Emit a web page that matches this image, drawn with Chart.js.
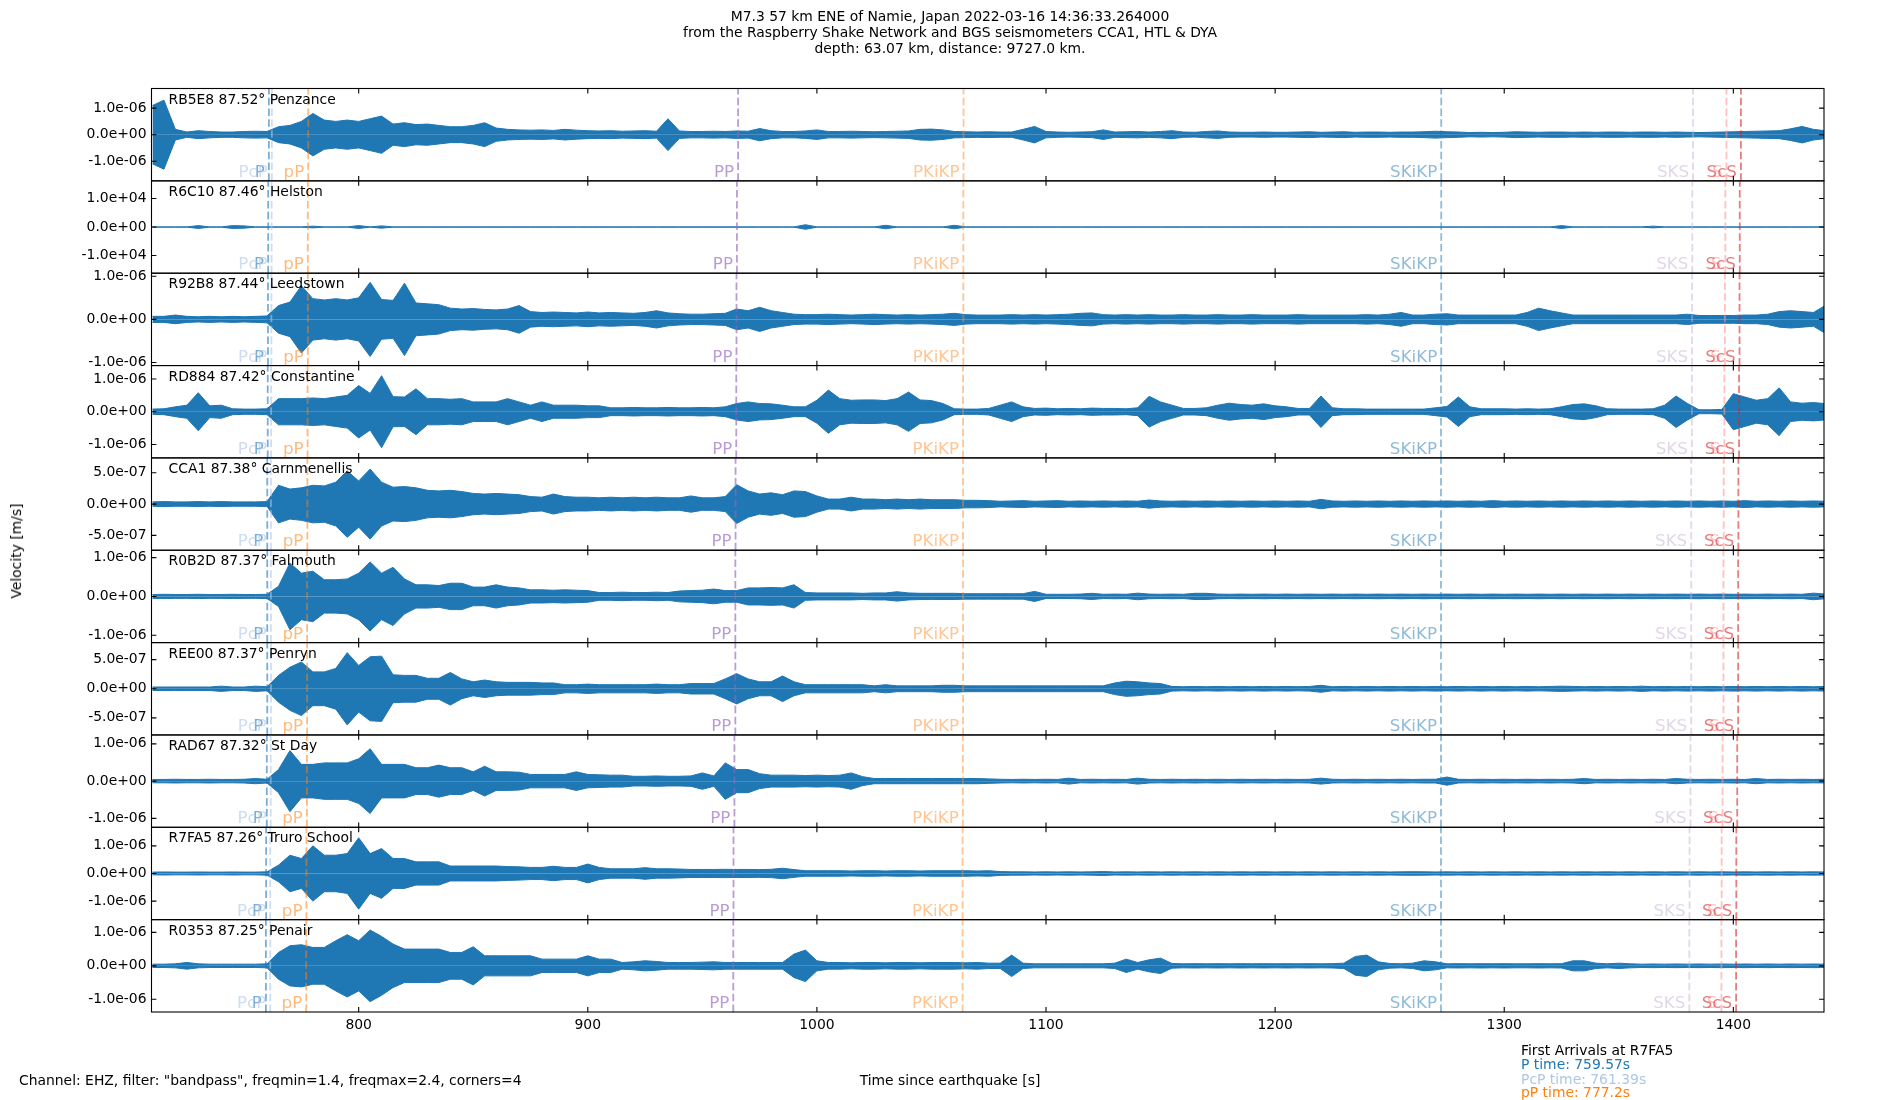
<!DOCTYPE html>
<html>
<head>
<meta charset="utf-8">
<script src="https://cdn.jsdelivr.net/npm/chart.js@4.4.1/dist/chart.umd.min.js"></script>
<style>
body { margin: 0; background: #fff; }
#wrap { position: relative; width: 1900px; height: 1100px; font-family: "DejaVu Sans", sans-serif; font-size: 13.9px; color: #000; }
#seis { position: absolute; left: 0; top: 0; }
.t { position: absolute; white-space: nowrap; line-height: 1; }
</style>
</head>
<body>
<div id="wrap">
<canvas id="seis" width="1900" height="1100"></canvas>
<div class="t" style="left:950px;top:17px;transform:translate(-50%,-50%)">M7.3 57 km ENE of Namie, Japan 2022-03-16 14:36:33.264000</div>
<div class="t" style="left:950px;top:33px;transform:translate(-50%,-50%)">from the Raspberry Shake Network and BGS seismometers CCA1, HTL &amp; DYA</div>
<div class="t" style="left:950px;top:48.5px;transform:translate(-50%,-50%)">depth: 63.07 km, distance: 9727.0 km.</div>
<div class="t" style="left:17px;top:551px;transform:translate(-50%,-50%) rotate(-90deg)">Velocity [m/s]</div>
<div class="t" style="left:950px;top:1081px;transform:translate(-50%,-50%)">Time since earthquake [s]</div>
<div class="t" style="left:19px;top:1081px;transform:translateY(-50%)">Channel: EHZ, filter: "bandpass", freqmin=1.4, freqmax=2.4, corners=4</div>
<div class="t" style="left:1521px;top:1050.5px;transform:translateY(-50%)">First Arrivals at R7FA5</div>
<div class="t" style="left:1521px;top:1065px;transform:translateY(-50%);color:#1f77b4">P time: 759.57s</div>
<div class="t" style="left:1521px;top:1079.5px;transform:translateY(-50%);color:#aec7e8">PcP time: 761.39s</div>
<div class="t" style="left:1521px;top:1093px;transform:translateY(-50%);color:#ff7f0e">pP time: 777.2s</div>
</div>
<script>
// stations, top panel first
var stationIds = ['RB5E8', 'R6C10', 'R92B8', 'RD884', 'CCA1', 'R0B2D', 'REE00', 'RAD67', 'R7FA5', 'R0353'];
var distances = ['87.52', '87.46', '87.44', '87.42', '87.38', '87.37', '87.37', '87.32', '87.26', '87.25'];
var places = ['Penzance', 'Helston', 'Leedstown', 'Constantine', 'Carnmenellis', 'Falmouth', 'Penryn', 'St Day', 'Truro School', 'Penair'];

// y limits and y tick step of each panel
var yLimits = [1.74e-6, 1.62e4, 1.07e-6, 1.41e-6, 7.38e-7, 1.19e-6, 7.93e-7, 1.24e-6, 1.67e-6, 1.38e-6];
var yTickSteps = [1e-6, 1e4, 1e-6, 1e-6, 5e-7, 1e-6, 5e-7, 1e-6, 1e-6, 1e-6];

var xMin = 709.57, xMax = 1439.57;
var xTickValues = [800, 900, 1000, 1100, 1200, 1300, 1400];

// sample times [s] of the trace envelopes
var sampleTimes = [
  710, 715, 720, 725, 730, 735, 740, 745, 750, 755,
  760, 765, 770, 775, 780, 785, 790, 795, 800, 805,
  810, 815, 820, 825, 830, 835, 840, 845, 850, 855,
  860, 865, 870, 875, 880, 885, 890, 895, 900, 905,
  910, 915, 920, 925, 930, 935, 940, 945, 950, 955,
  960, 965, 970, 975, 980, 985, 990, 995, 1000, 1005,
  1010, 1015, 1020, 1025, 1030, 1035, 1040, 1045, 1050, 1055,
  1060, 1065, 1070, 1075, 1080, 1085, 1090, 1095, 1100, 1105,
  1110, 1115, 1120, 1125, 1130, 1135, 1140, 1145, 1150, 1155,
  1160, 1165, 1170, 1175, 1180, 1185, 1190, 1195, 1200, 1205,
  1210, 1215, 1220, 1225, 1230, 1235, 1240, 1245, 1250, 1255,
  1260, 1265, 1270, 1275, 1280, 1285, 1290, 1295, 1300, 1305,
  1310, 1315, 1320, 1325, 1330, 1335, 1340, 1345, 1350, 1355,
  1360, 1365, 1370, 1375, 1380, 1385, 1390, 1395, 1400, 1405,
  1410, 1415, 1420, 1425, 1430, 1435, 1440
];

// trace envelope amplitudes, in ampUnits of each station
var ampUnits = [1e-7, 100, 1e-7, 1e-7, 1e-7, 1e-7, 1e-7, 1e-7, 1e-7, 1e-7];

var ampRB5E8 = [
  11, 13, 2, 1, 1.5, 1.2, 1, 1, 1.2, 1.3,
  1.2, 3, 3.5, 5, 8, 5.5, 5, 5.5, 5, 6,
  7, 4, 4.5, 3.8, 4, 3.5, 3, 3, 3.5, 4.5,
  2.5, 2, 1.8, 1.7, 1.8, 1.6, 2, 1.7, 1.5, 1.4,
  1.5, 1.3, 1.4, 1.5, 1.3, 6, 1.4, 1.2, 1.2, 1.3,
  1.2, 1.4, 1.3, 2.3, 1.5, 1.2, 1.2, 1.4, 1.8, 1.2,
  1.2, 1.3, 1.2, 1.1, 1.2, 1.3, 1.4, 2, 2.1, 1.8,
  1.2, 1.1, 1, 1.1, 1, 1, 2, 3.1, 1.2, 1,
  0.9, 1, 1.1, 1.8, 1, 1.1, 1.2, 1, 1.2, 1.5,
  1, 0.9, 1.2, 1.4, 1, 0.9, 0.9, 1, 0.9, 0.9,
  1, 1.1, 0.9, 1, 1.1, 0.9, 1, 1, 0.9, 1,
  1, 1.1, 1.3, 1.1, 1, 0.8, 0.9, 0.8, 0.9, 1.1,
  1, 0.9, 1, 1, 0.9, 1, 0.9, 1, 1, 0.9,
  1, 1, 0.9, 1, 0.9, 0.8, 0.9, 1, 1.1, 1.2,
  1.3, 1.4, 1.5, 2.2, 3.1, 2, 1.5
];
var ampR6C10 = [
  0.5, 0.5, 0.5, 0.5, 5, 0.5, 0.5, 5, 4, 0.5,
  0.5, 0.5, 0.5, 0.5, 3, 0.5, 0.5, 0.5, 5, 0.5,
  4, 0.5, 0.5, 0.5, 0.5, 0.5, 0.5, 0.5, 0.5, 0.5,
  0.5, 0.5, 0.5, 0.5, 0.5, 0.5, 0.5, 0.5, 0.5, 0.5,
  0.5, 0.5, 0.5, 0.5, 0.5, 0.5, 0.5, 0.5, 0.5, 0.5,
  0.5, 0.5, 0.5, 0.5, 0.5, 0.5, 0.5, 8, 0.5, 0.5,
  0.5, 0.5, 0.5, 0.5, 6, 0.5, 0.5, 0.5, 0.5, 0.5,
  6, 0.5, 0.5, 0.5, 0.5, 0.5, 0.5, 0.5, 0.5, 0.5,
  0.5, 0.5, 0.5, 0.5, 0.5, 0.5, 0.5, 0.5, 0.5, 0.5,
  0.5, 0.5, 0.5, 0.5, 0.5, 0.5, 0.5, 0.5, 0.5, 0.5,
  0.5, 0.5, 0.5, 0.5, 0.5, 0.5, 0.5, 0.5, 0.5, 0.5,
  0.5, 0.5, 0.5, 0.5, 0.5, 0.5, 0.5, 0.5, 0.5, 0.5,
  0.5, 0.5, 0.5, 5, 0.5, 0.5, 0.5, 0.5, 0.5, 0.5,
  0.5, 3, 0.5, 0.5, 0.5, 0.5, 0.5, 0.5, 0.5, 0.5,
  0.5, 0.5, 0.5, 0.5, 0.5, 0.5, 0.5
];
var ampR92B8 = [
  0.7, 0.7, 1, 0.7, 0.6, 0.7, 0.6, 0.7, 0.6, 0.7,
  0.8, 3.2, 4, 7.8, 4.8, 4.5, 4.8, 4.5, 5, 8.6,
  4.6, 4.4, 8.4, 3.8, 3.6, 3.4, 2.6, 2.4, 2.5, 2.3,
  2.2, 2.4, 3.2, 1.8, 1.6, 1.7, 1.6, 1.5, 1.7, 1.5,
  1.6, 1.5, 1.4, 1.6, 2, 1.5, 1.3, 1.2, 1.2, 1.3,
  1.4, 2.4, 2, 2.8, 2, 1.6, 1.2, 1.1, 1.1, 1.2,
  1.1, 1, 1.1, 1.2, 1.1, 1, 1.1, 1, 1.1, 1.2,
  1.4, 1.1, 1, 1, 1, 1.1, 1, 1.1, 1, 1.1,
  1.2, 1.4, 1.5, 1.1, 1, 1.1, 1, 1.1, 1, 1,
  1.1, 1, 1, 1.1, 1, 1, 1.1, 1, 1, 1,
  1.1, 1, 1, 1, 1, 1, 1.1, 1, 1.2, 1.6,
  1, 1, 1.2, 1.3, 1, 1, 1, 1, 1, 1,
  1.6, 2.6, 2, 1.5, 1, 1, 1, 1, 1, 1,
  1, 1, 1, 1, 1.2, 0.9, 0.9, 0.9, 0.9, 1,
  1, 1.2, 1.8, 2, 1.8, 1.6, 3.2
];
var ampRD884 = [
  0.8, 0.9, 1.5, 2, 5.8, 1.8, 2, 0.9, 0.8, 0.8,
  0.9, 4, 4, 4, 4.2, 4, 4.5, 5, 8, 5.6,
  11, 4.6, 4.5, 7, 4, 4, 3.8, 4, 3, 3,
  3, 4, 3, 2, 3, 2, 2, 2, 1.8, 1.8,
  1.2, 1.2, 1.3, 1.2, 1.2, 1.3, 1.2, 1.2, 1.3, 1.2,
  1.5, 2.5, 3, 2.5, 2.4, 2, 1.5, 1.5, 3.5, 6.6,
  4, 3.5, 3.6, 3.6, 3.4, 4, 6, 3.6, 3.4, 2.5,
  0.9, 0.8, 0.8, 1, 2, 3, 1.5, 1, 1.1, 0.9,
  1, 0.9, 1.1, 1, 1, 0.9, 1.2, 4.7, 3, 2,
  1, 1, 1.2, 2, 2.6, 2.2, 2, 2.4, 1.8, 1.5,
  1, 1, 4.8, 1.2, 0.9, 0.9, 0.8, 0.8, 0.8, 0.8,
  0.8, 0.8, 1.2, 1.6, 4.5, 1.5, 0.9, 0.9, 0.9, 0.8,
  0.9, 0.8, 0.9, 1.5, 2.2, 2.4, 1.8, 0.9, 0.8, 0.8,
  0.8, 0.9, 2, 4.8, 2.5, 0.6, 0.6, 0.7, 5.5, 4.5,
  3.5, 4, 7.3, 3, 2.6, 2.8, 2.5
];
var ampCCA1 = [
  0.35, 0.4, 0.35, 0.35, 0.4, 0.35, 0.4, 0.35, 0.35, 0.35,
  0.4, 3, 2.4, 2.6, 3, 2.9, 3.5, 5.3, 3.7, 5.6,
  3.5, 2.7, 2.8, 2.6, 2.2, 2.1, 2.2, 2, 1.7, 1.6,
  1.7, 1.6, 1.5, 1.2, 1.1, 1.6, 1.2, 1.1, 1.1, 1,
  1.1, 1, 1.1, 1, 1.1, 1, 1, 1.3, 1, 1,
  1.2, 3.1, 2.1, 1.6, 1.8, 1.5, 2.1, 2, 1.3, 0.8,
  0.8, 1.1, 0.8, 0.8, 0.7, 0.8, 0.7, 0.8, 0.7, 0.7,
  0.7, 0.6, 0.6, 0.55, 0.45, 0.5, 0.55, 0.45, 0.5, 0.55,
  0.45, 0.5, 0.45, 0.5, 0.45, 0.5, 0.45, 0.65, 0.5, 0.45,
  0.5, 0.45, 0.5, 0.45, 0.5, 0.45, 0.5, 0.45, 0.5, 0.45,
  0.5, 0.45, 0.75, 0.5, 0.45, 0.5, 0.45, 0.5, 0.45, 0.5,
  0.45, 0.5, 0.45, 0.5, 0.45, 0.5, 0.45, 0.55, 0.45, 0.5,
  0.45, 0.5, 0.45, 0.5, 0.45, 0.5, 0.45, 0.5, 0.45, 0.5,
  0.45, 0.5, 0.45, 0.5, 0.45, 0.5, 0.45, 0.5, 0.45, 0.55,
  0.45, 0.5, 0.45, 0.5, 0.45, 0.5, 0.45
];
var ampR0B2D = [
  0.5, 0.55, 0.5, 0.5, 0.55, 0.5, 0.5, 0.55, 0.5, 0.5,
  0.55, 2.6, 8.6, 6, 6.5, 4.3, 4.3, 4.5, 6, 8.9,
  6, 7.5, 4.5, 3, 3, 2.8, 3.4, 3.4, 2.4, 2.4,
  3, 2.4, 2.2, 1.7, 1.7, 1.6, 1.7, 1.6, 1.5, 1,
  1, 1.1, 1, 1, 1.1, 1, 1.4, 1.5, 1.6, 1.9,
  1.5, 1.5, 2.2, 2.2, 2.3, 2.2, 3, 1, 0.9, 0.9,
  0.9, 0.9, 0.8, 0.9, 0.9, 1.2, 0.9, 0.8, 0.8, 0.8,
  0.8, 0.7, 0.7, 0.7, 0.7, 0.7, 0.7, 1.3, 0.55, 0.55,
  0.55, 0.6, 0.8, 0.55, 0.6, 0.55, 0.85, 0.6, 0.55, 0.6,
  0.55, 0.8, 0.8, 0.6, 0.55, 0.6, 0.55, 0.6, 0.55, 0.6,
  0.55, 0.6, 0.55, 0.6, 0.55, 0.6, 0.55, 0.6, 0.55, 0.6,
  0.55, 0.6, 0.55, 0.6, 0.55, 0.6, 0.55, 0.6, 0.55, 0.6,
  0.55, 0.6, 0.55, 0.6, 0.55, 0.6, 0.55, 0.6, 0.55, 0.6,
  0.55, 0.6, 0.55, 0.6, 0.55, 0.6, 0.55, 0.6, 0.55, 0.6,
  0.55, 0.6, 0.55, 0.6, 0.55, 0.85, 0.6
];
var ampREE00 = [
  0.3, 0.3, 0.3, 0.3, 0.3, 0.3, 0.45, 0.3, 0.3, 0.45,
  0.35, 2.3, 3.7, 4.6, 2.9, 2.9, 3.5, 6.2, 4, 5.5,
  5.6, 2.4, 2.3, 2.3, 1.8, 1.8, 2.8, 1.7, 1.2, 1.5,
  1.2, 1.1, 1.1, 1.1, 1, 1, 0.7, 0.7, 0.8, 0.7,
  0.7, 0.7, 0.7, 0.7, 0.8, 0.7, 0.7, 0.9, 0.9, 0.9,
  1.7, 2.6, 1.7, 1.2, 1.2, 2.2, 1.2, 0.7, 0.7, 0.7,
  0.7, 0.7, 0.7, 0.5, 0.7, 0.5, 0.5, 0.5, 0.5, 0.6,
  0.6, 0.5, 0.5, 0.5, 0.5, 0.5, 0.5, 0.5, 0.5, 0.5,
  0.5, 0.5, 0.5, 0.5, 1, 1.3, 1.2, 1, 0.9, 0.4,
  0.35, 0.4, 0.35, 0.4, 0.35, 0.4, 0.35, 0.4, 0.35, 0.4,
  0.35, 0.4, 0.6, 0.35, 0.4, 0.35, 0.4, 0.35, 0.4, 0.35,
  0.4, 0.35, 0.4, 0.35, 0.4, 0.35, 0.4, 0.35, 0.4, 0.35,
  0.4, 0.35, 0.4, 0.45, 0.4, 0.35, 0.4, 0.35, 0.4, 0.35,
  0.45, 0.35, 0.4, 0.35, 0.4, 0.35, 0.4, 0.35, 0.4, 0.35,
  0.4, 0.35, 0.4, 0.35, 0.4, 0.35, 0.4
];
var ampRAD67 = [
  0.45, 0.45, 0.5, 0.45, 0.45, 0.5, 0.45, 0.45, 0.5, 0.7,
  0.5, 3.1, 8.2, 4.5, 4.5, 4.9, 4.9, 4.9, 6, 8.7,
  4.5, 4.5, 4.5, 3.6, 3.6, 4.3, 3.6, 3.6, 2.5, 4,
  2.5, 2.5, 2.4, 1.8, 1.8, 1.8, 1.8, 2.5, 1.8, 1.7,
  1.6, 1.6, 1.3, 1.3, 1.4, 1.3, 1.3, 1.4, 2.2, 1.4,
  4.9, 3.1, 3.1, 2, 1.6, 1.6, 1.6, 1.5, 1.6, 1.5,
  1.6, 2.2, 1.2, 0.7, 0.7, 0.7, 0.7, 0.7, 0.7, 0.7,
  0.7, 0.7, 0.7, 0.6, 0.5, 0.45, 0.5, 0.45, 0.5, 0.45,
  0.8, 0.45, 0.5, 0.45, 0.5, 0.45, 0.8, 0.5, 0.45, 0.5,
  0.45, 0.5, 0.45, 0.5, 0.45, 0.5, 0.45, 0.5, 0.45, 0.5,
  0.45, 0.5, 0.8, 0.5, 0.45, 0.5, 0.45, 0.5, 0.45, 0.5,
  0.45, 0.5, 0.5, 1.1, 0.5, 0.45, 0.5, 0.45, 0.5, 0.45,
  0.5, 0.45, 0.5, 0.45, 0.5, 0.7, 0.45, 0.5, 0.45, 0.5,
  0.45, 0.5, 0.45, 0.7, 0.5, 0.45, 0.5, 0.45, 0.5, 0.45,
  0.7, 0.45, 0.5, 0.45, 0.5, 0.45, 0.5
];
var ampR7FA5 = [
  0.5, 0.55, 0.5, 0.5, 0.55, 0.5, 0.5, 0.55, 0.5, 0.5,
  0.6, 3, 6.6, 5.4, 10, 6.6, 6.6, 7.2, 12.9, 7.2,
  9, 5.4, 5.4, 4.2, 4.2, 4.2, 2.7, 2.7, 2.7, 2.7,
  2.7, 2.5, 2.4, 2.2, 2.2, 2.6, 2.2, 2.2, 3.4, 2.2,
  1.7, 1.7, 1.7, 2.1, 1.7, 1.7, 1.6, 1.45, 1.45, 1.45,
  1.5, 1.45, 1.45, 1.4, 1.5, 1.9, 1.4, 1, 1, 1,
  1, 0.9, 1, 1, 0.9, 1, 1, 0.9, 1, 1,
  1, 1, 0.9, 1, 0.7, 0.6, 0.6, 0.55, 0.6, 0.55,
  0.6, 0.55, 0.6, 0.7, 0.55, 0.6, 0.55, 0.6, 0.55, 0.6,
  0.55, 0.6, 0.55, 0.6, 0.55, 0.6, 0.55, 0.6, 0.55, 0.6,
  0.55, 0.6, 0.55, 0.6, 0.55, 0.6, 0.55, 0.6, 0.55, 0.6,
  0.65, 0.6, 0.55, 0.6, 0.55, 0.6, 0.55, 0.6, 0.55, 0.6,
  0.55, 0.6, 0.55, 0.6, 0.55, 0.6, 0.55, 0.6, 0.55, 0.6,
  0.55, 0.6, 0.55, 0.6, 0.55, 0.6, 0.55, 0.6, 0.55, 0.6,
  0.55, 0.6, 0.55, 0.6, 0.55, 0.6, 0.55
];
var ampR0353 = [
  0.5, 0.5, 0.6, 1, 0.6, 0.5, 0.5, 0.5, 0.5, 0.5,
  0.6, 4, 6, 6.3, 5.5, 5.5, 7.5, 9.3, 7.5, 10.7,
  8.8, 6.5, 5, 5, 5, 5, 4, 4, 5.7, 3,
  3, 3, 3, 3, 2, 2, 2, 2, 3, 2,
  2, 1, 1.2, 1.5, 1.3, 1, 1, 1, 1.1, 1.2,
  1, 1, 1, 1, 1, 1, 3.5, 4.7, 1.5, 1,
  1, 0.9, 1, 1, 0.9, 1, 1, 0.9, 1, 1,
  1, 0.9, 1, 0.8, 0.8, 3.2, 0.8, 0.6, 0.6, 0.6,
  0.6, 0.6, 0.6, 0.6, 0.8, 2, 1, 1.8, 2.3, 0.7,
  0.6, 0.65, 0.6, 0.65, 0.6, 0.65, 0.6, 0.65, 0.6, 0.65,
  0.6, 0.65, 0.6, 0.65, 0.8, 2.8, 3.2, 1.2, 0.7, 0.6,
  0.8, 1.5, 1.2, 0.6, 0.65, 0.6, 0.65, 0.6, 0.65, 0.6,
  0.6, 0.65, 0.6, 0.65, 1.5, 1.5, 0.8, 0.6, 0.8, 0.6,
  0.5, 0.55, 0.5, 0.55, 0.5, 0.55, 0.5, 0.55, 0.5, 0.55,
  0.5, 0.55, 0.5, 0.55, 0.5, 0.55, 0.5
];
var traces = [ampRB5E8, ampR6C10, ampR92B8, ampRD884, ampCCA1, ampR0B2D, ampREE00, ampRAD67, ampR7FA5, ampR0353];

// phase arrival times [s] per station (same order as stationIds)
var phaseNames = ['P', 'PcP', 'pP', 'PP', 'PKiKP', 'SKiKP', 'SKS', 'S', 'ScS'];
var tP     = [760.8, 760.5, 760.4, 760.3, 760.1, 760.1, 760.1, 759.9, 759.6, 759.5];
var tPcP   = [762.1, 762.0, 761.9, 761.8, 761.7, 761.7, 761.7, 761.6, 761.4, 761.4];
var tpP    = [778.0, 777.8, 777.8, 777.7, 777.6, 777.5, 777.5, 777.4, 777.2, 777.1];
var tPP    = [965.6, 965.1, 964.9, 964.8, 964.5, 964.4, 964.4, 964.0, 963.6, 963.5];
var tPKiKP = [1064.0, 1063.9, 1063.9, 1063.8, 1063.8, 1063.8, 1063.8, 1063.7, 1063.6, 1063.6];
var tSKiKP = [1272.5, 1272.5, 1272.5, 1272.4, 1272.4, 1272.4, 1272.4, 1272.4, 1272.4, 1272.4];
var tSKS   = [1382.4, 1382.1, 1382.0, 1381.9, 1381.6, 1381.6, 1381.6, 1381.3, 1380.9, 1380.8];
var tS     = [1397.0, 1396.5, 1396.3, 1396.1, 1395.8, 1395.7, 1395.7, 1395.3, 1394.9, 1394.8];
var tScS   = [1403.3, 1402.8, 1402.7, 1402.5, 1402.2, 1402.1, 1402.1, 1401.7, 1401.3, 1401.2];
var phaseTimes = [tP, tPcP, tpP, tPP, tPKiKP, tSKiKP, tSKS, tS, tScS];
var phaseColors = [
  'rgba(31,119,180,0.6)', 'rgba(174,199,232,0.6)', 'rgba(255,127,14,0.55)',
  'rgba(148,103,189,0.65)', 'rgba(255,140,40,0.5)', 'rgba(31,119,180,0.5)',
  'rgba(197,176,213,0.5)', 'rgba(255,152,150,0.6)', 'rgba(214,39,40,0.6)'
];

var FONT = '"DejaVu Sans", sans-serif';
var TICK_LEN = 4.9;

function sciLabel(v) {
  // matplotlib style 1.0e-06
  return v.toExponential(1).replace(/e([+-])(\d)$/, 'e$10$2');
}

/* ---------datasets: upper and lower envelope of every trace--------- */
var datasets = [];
stationIds.forEach(function (id, i) {
  var amp = traces[i];
  var upper = sampleTimes.map(function (t, k) { return {x: t, y: amp[k] * ampUnits[i]}; });
  var lower = sampleTimes.map(function (t, k) { return {x: t, y: -amp[k] * ampUnits[i]}; });
  [upper, lower].forEach(function (d) {
    datasets.push({
      label: id,
      data: d,
      yAxisID: 'y' + i,
      borderColor: '#1f77b4',
      backgroundColor: '#1f77b4',
      borderWidth: 1,
      pointRadius: 0,
      tension: 0,
      fill: 'origin'
    });
  });
});

/* ---------scales: one shared x, ten stacked y--------- */
var scales = {
  x: {
    type: 'linear',
    position: 'bottom',
    min: xMin,
    max: xMax,
    grid: {display: false, drawTicks: false},
    border: {display: false},
    afterBuildTicks: function (s) { s.ticks = xTickValues.map(function (v) { return {value: v}; }); },
    afterFit: function (s) { s.height = 40; },
    ticks: {
      padding: 5, color: '#000', autoSkip: false, maxRotation: 0,
      font: {family: FONT, size: 13.9},
      callback: function (v) { return String(v); }
    }
  }
};
stationIds.forEach(function (id, i) {
  scales['y' + i] = {
    type: 'linear',
    position: 'left',
    stack: 'panels',
    stackWeight: 1,
    weight: stationIds.length - i,
    min: -yLimits[i],
    max: yLimits[i],
    grid: {display: false, drawTicks: false},
    border: {display: false},
    afterBuildTicks: function (s) {
      s.ticks = [-yTickSteps[i], 0, yTickSteps[i]].map(function (v) { return {value: v}; });
    },
    afterFit: function (s) { s.width = 140; },
    ticks: {
      padding: 5, color: '#000', autoSkip: false,
      font: {family: FONT, size: 13.9},
      callback: function (v) { return sciLabel(v); }
    }
  };
});

//draw panel frames, inward ticks, phase lines and labels
var panelDecor = {
  id: 'panelDecor',
  afterDatasetsDraw: function (chart) {
    var ctx = chart.ctx;
    var left = chart.chartArea.left, right = chart.chartArea.right;
    var x = chart.scales.x;
    ctx.save();
    stationIds.forEach(function (id, i) {
      var ys = chart.scales['y' + i];
      var top = ys.top, bottom = ys.bottom;

      // phase arrival lines
      ctx.save();
      ctx.beginPath();
      ctx.rect(left, top, right - left, bottom - top);
      ctx.clip();
      ctx.lineWidth = 1.8;
      ctx.setLineDash([7.5, 3.3]);
      phaseNames.forEach(function (name, j) {
        var px = x.getPixelForValue(phaseTimes[j][i]);
        ctx.strokeStyle = phaseColors[j];
        ctx.beginPath();
        ctx.moveTo(px, bottom);
        ctx.lineTo(px, top);
        ctx.stroke();
      });
      ctx.setLineDash([]);
      ctx.font = '16.7px ' + FONT;
      ctx.textAlign = 'right';
      ctx.textBaseline = 'alphabetic';
      phaseNames.forEach(function (name, j) {
        var px = x.getPixelForValue(phaseTimes[j][i]);
        ctx.fillStyle = phaseColors[j];
        ctx.fillText(name, px - 4, bottom - 4);
      });
      ctx.restore();

      // station label
      ctx.fillStyle = '#000';
      ctx.font = '13.9px ' + FONT;
      ctx.textAlign = 'left';
      ctx.textBaseline = 'alphabetic';
      ctx.fillText(id + ' ' + distances[i] + '\u00b0 ' + places[i], left + 17, top + 15);

      // frame
      ctx.strokeStyle = '#000';
      ctx.lineWidth = 1.1;
      ctx.strokeRect(left, top, right - left, bottom - top);

      // inward ticks
      ctx.beginPath();
      xTickValues.forEach(function (v) {
        var px = x.getPixelForValue(v);
        ctx.moveTo(px, top); ctx.lineTo(px, top + TICK_LEN);
        ctx.moveTo(px, bottom); ctx.lineTo(px, bottom - TICK_LEN);
      });
      [-yTickSteps[i], 0, yTickSteps[i]].forEach(function (v) {
        var py = ys.getPixelForValue(v);
        ctx.moveTo(left, py); ctx.lineTo(left + TICK_LEN, py);
        ctx.moveTo(right, py); ctx.lineTo(right - TICK_LEN, py);
      });
      ctx.stroke();
    });
    ctx.restore();
  }
};

var config = {
  type: 'line',
  data: {datasets: datasets},
  plugins: [panelDecor],
  options: {
    responsive: false,
    animation: false,
    devicePixelRatio: 1,
    layout: {padding: {left: 11.5, right: 76, top: 88.5, bottom: 48}},
    plugins: {legend: {display: false}, tooltip: {enabled: false}, title: {display: false}},
    scales: scales
  }
};

var seisChart = new Chart(document.getElementById('seis'), config);
</script>
</body>
</html>
